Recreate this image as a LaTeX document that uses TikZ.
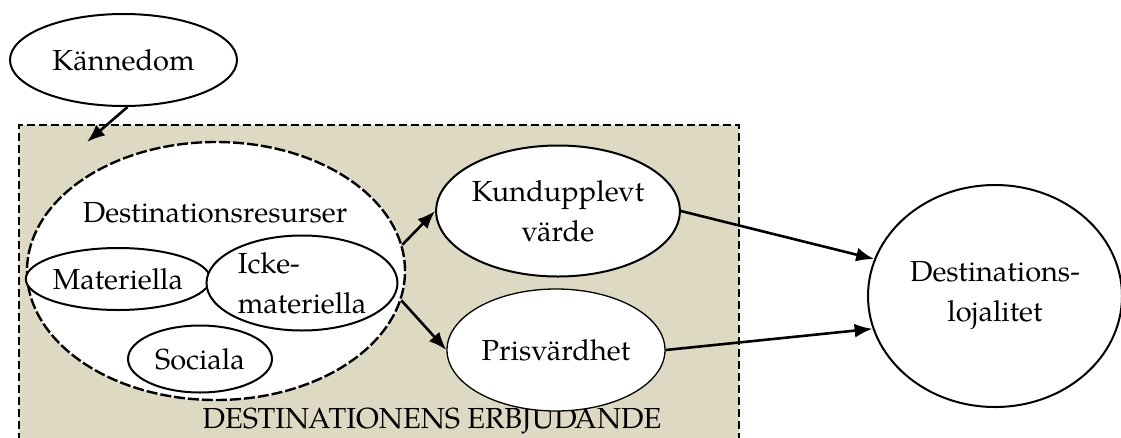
\documentclass[tikz,border=0pt]{standalone}
\usepackage{fontspec}
\setmainfont{TeX Gyre Pagella}
\usetikzlibrary{shapes.geometric,arrows.meta}
\definecolor{offerfill}{HTML}{DDD9C3}
\begin{document}
\begin{tikzpicture}[x=1pt,y=-1pt,
  every node/.style={font=\fontsize{29}{40}\selectfont, inner sep=0pt},
  oval/.style={ellipse, draw, line width=2pt, fill=white},
  thinoval/.style={ellipse, draw, line width=1.3pt, fill=white},
  link/.style={line width=2.6pt, -{Latex[length=18pt,width=14pt]}}]
  \useasboundingbox (0,0) rectangle (1121,437);
  \clip (0,0) rectangle (1121,437);
  % offer area
  \node[draw, dash pattern=on 8pt off 4pt, line width=1.8pt, fill=offerfill, rectangle, minimum width=720pt, minimum height=340pt, anchor=north west] (offer) at (18,124) {};
  \node (offertext) at (432,421) {DESTINATIONENS ERBJUDANDE};
  % awareness
  \node[oval, minimum width=227pt, minimum height=92pt] (kann) at (123.5,60) {Kännedom};
  \coordinate (kanntip) at (87,142);
  % resources
  \node[ellipse, draw, dash pattern=on 11pt off 3pt, line width=2.4pt, fill=white, minimum width=378pt, minimum height=258pt] (res) at (216,271) {};
  \node (restext) at (215,213) {Destinationsresurser};
  \node[oval, minimum width=170pt, minimum height=62pt] (mat) at (118,279) {Materiella};
  \node[oval, minimum width=191pt, minimum height=95pt, align=left] (icke) at (302,283) {Icke-\\materiella};
  \node[oval, minimum width=144pt, minimum height=67pt] (soc) at (200,359) {Sociala};
  % value nodes
  \node[oval, minimum width=223pt, minimum height=131pt, align=center] (kund) at (558,211) {Kundupplevt\\värde};
  \node[thinoval, minimum width=218pt, minimum height=122pt] (pris) at (556,350) {Prisvärdhet};
  \node[oval, minimum width=254pt, minimum height=222pt, align=center] (loj) at (995,296) {Destinations-\\lojalitet};
  % connectors
  \draw[link] (kann.south) ++(4,0) coordinate (kannfoot) -- (kanntip);
  \draw[link] (res.8) -- (kund.west);
  \draw[link] (res.-9) -- (pris.west);
  \draw[link] (kund.east) -- (loj.163);
  \draw[link] (pris.east) -- (loj.195);
\end{tikzpicture}
\end{document}
